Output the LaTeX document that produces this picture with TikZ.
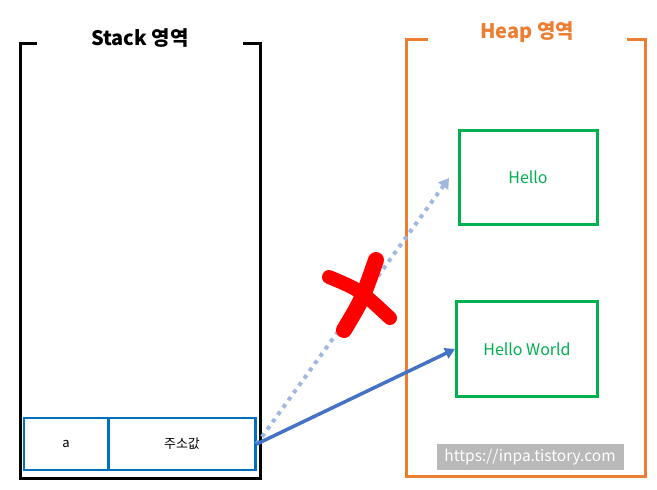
\documentclass[tikz,border=0pt]{standalone}
\usepackage{fontspec}
\setmainfont{Noto Sans CJK KR}
\usetikzlibrary{arrows.meta}
\definecolor{stackblue}{RGB}{0,112,192}
\definecolor{heaporange}{RGB}{237,125,49}
\definecolor{boxgreen}{RGB}{0,176,80}
\definecolor{arrowblue}{RGB}{68,114,196}
\definecolor{dotblue}{RGB}{160,184,224}
\tikzset{
  wall/.style={line width=3pt},
  title/.style={font=\fontsize{20}{24}\selectfont\bfseries},
  cell/.style={draw=stackblue, line width=2.5pt, minimum height=52pt, inner sep=0pt, font=\fontsize{13}{15}\selectfont},
  obj/.style={draw=boxgreen, line width=3pt, text=boxgreen, inner sep=0pt, font=\fontsize{16}{19}\selectfont},
}
\begin{document}
\begin{tikzpicture}[x=1pt,y=-1pt]
\useasboundingbox (0,0) rectangle (657,490);

% Stack area
\draw[wall] (37,43) -- (20,43) -- (20,478) -- (260,478) -- (260,43) -- (243,43);
\node[title] (stacktitle) at (140,38) {Stack 영역};

% Heap area
\draw[wall, heaporange] (428,39) -- (406,39) -- (406,476) -- (645,476) -- (645,39) -- (627,39);
\node[title, text=heaporange] (heaptitle) at (527,32) {Heap 영역};

% stack cells
\node[cell, minimum width=84pt] (vara) at (66,444) {a};
\node[cell, minimum width=147pt] (addr) at (182,444) {주소값};

% heap objects
\node[obj, minimum width=138pt, minimum height=94pt] (hello) at (528,177) {Hello};
\node[obj, minimum width=141pt, minimum height=95pt] (helloworld) at (527,349) {Hello World};

% references
\draw[dotblue, line width=4pt, dash pattern=on 4pt off 5pt, -{Triangle[length=10pt,width=12pt]}] (addr.east) -- (449,178);
\draw[arrowblue, line width=3.5pt, -{Triangle[length=10pt,width=11pt]}] (addr.east) -- (helloworld.west);

% cross
\draw[red, line width=16pt, line cap=round] (344,330) .. controls (362,300) .. (376,260);
\draw[red, line width=14pt, line cap=round] (329,277) .. controls (360,290) .. (390,318);

% watermark
\node[fill=gray!55, text=white, minimum width=187pt, minimum height=26pt, inner sep=0pt, font=\fontsize{15.5}{18}\selectfont] (mark) at (530,457) {https://inpa.tistory.com};
\end{tikzpicture}
\end{document}
